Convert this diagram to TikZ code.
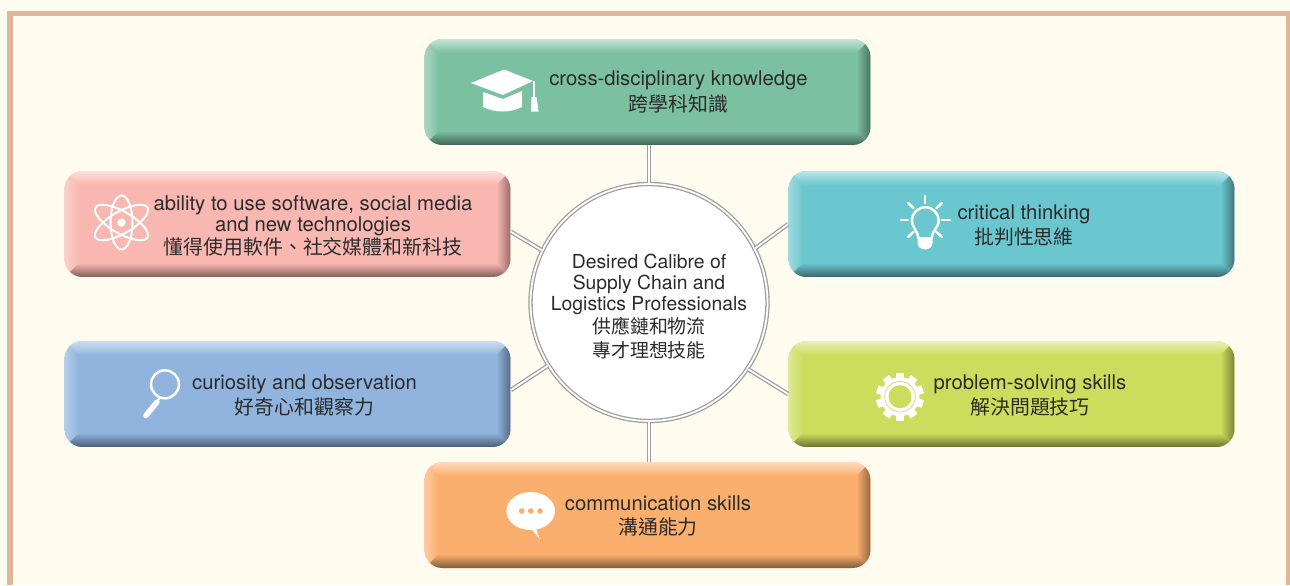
\documentclass[tikz,border=0pt]{standalone}
\usepackage{fontspec}
\setmainfont{TeX Gyre Heros}
\newfontfamily\cjk[Scale=0.98]{Noto Sans CJK TC}
\usepackage{tikz}
\usetikzlibrary{calc,positioning}

\definecolor{paper}{HTML}{FFFCEF}
\definecolor{frame}{HTML}{DDB897}
\definecolor{ink}{HTML}{2B2B2B}
\definecolor{mint}{HTML}{7CC0A2}
\definecolor{blush}{HTML}{F9B7B1}
\definecolor{aqua}{HTML}{6BC7CF}
\definecolor{sky}{HTML}{90B4DD}
\definecolor{lime}{HTML}{CCDD5E}
\definecolor{apricot}{HTML}{FBAF6E}

\tikzset{
  skill-box/.style={rectangle, rounded corners=0.36cm, minimum width=8.92cm, minimum height=2.12cm, inner sep=0pt, fill=#1,
    path picture={
      \coordinate (nw) at (path picture bounding box.north west);
      \coordinate (ne) at (path picture bounding box.north east);
      \coordinate (sw) at (path picture bounding box.south west);
      \coordinate (se) at (path picture bounding box.south east);
      \coordinate (inw) at ($(nw)+(0.28cm,-0.28cm)$);
      \coordinate (ine) at ($(ne)+(-0.28cm,-0.28cm)$);
      \coordinate (isw) at ($(sw)+(0.28cm,0.28cm)$);
      \coordinate (ise) at ($(se)+(-0.28cm,0.28cm)$);
      \path[sharp corners, top color=#1!45!white, bottom color=#1] (nw) -- (ne) -- (ine) -- (inw) -- cycle;
      \path[sharp corners, top color=#1, bottom color=#1!52!black] (isw) -- (ise) -- (se) -- (sw) -- cycle;
      \path[sharp corners, left color=#1!65!white, right color=#1] (nw) -- (inw) -- (isw) -- (sw) -- cycle;
      \path[sharp corners, left color=#1, right color=#1!60!black] (ine) -- (ne) -- (se) -- (ise) -- cycle;
    }}
}

\begin{document}
\begin{tikzpicture}[x=0.02cm, y=-0.02cm]
    \tikzstyle{link}=[draw=gray!75, line width=0.026cm, double=white, double distance=0.036cm]
    \tikzstyle{skill-text}=[align=center, inner sep=0pt, text=ink, font=\fontsize{11.55}{12}\selectfont]
    \tikzstyle{hub-text}=[align=center, inner sep=0pt, text=ink, font=\fontsize{11}{12}\selectfont]
    \tikzstyle{glyph}=[draw=white, line width=0.05cm, line cap=round]

    \fill[paper] (0,0) rectangle (1290,585);
    \fill[frame] (7.3,10.5) rectangle (1290,16);
    \fill[frame] (7.3,10.5) rectangle (12.5,585);
    \fill[frame] (1286,10.5) rectangle (1290,585);

    \node[skill-box=mint] (knowledge) at (647.5,92) {};
    \node[skill-box=blush] (software) at (287.5,224) {};
    \node[skill-box=aqua] (thinking) at (1011.5,224) {};
    \node[skill-box=sky] (curiosity) at (287.5,394) {};
    \node[skill-box=lime] (solving) at (1011.5,394) {};
    \node[skill-box=apricot] (communication) at (647.5,515) {};

    \node[circle, link, fill=white, minimum size=4.74cm, inner sep=0pt] (calibre) at (649,302.5) {};

    \draw[link] (calibre.north) -- (calibre.north |- knowledge.south);
    \draw[link] (calibre.south) -- (calibre.south |- communication.north);
    \draw[link] (calibre.154) -- (software.-2.3);
    \draw[link] (calibre.27.8) -- (thinking.180.8);
    \draw[link] (calibre.212.4) -- (curiosity.1.5);
    \draw[link] (calibre.-34) -- (solving.180);

    \node[hub-text] (calibre-text) at (649,306.5) {Desired Calibre of\\Supply Chain and\\Logistics Professionals\\[1.3pt]{\cjk 供應鏈和物流}\\[1.6pt]{\cjk 專才理想技能}};
    \node[skill-text] (knowledge-text) at (678.5,92) {cross-disciplinary knowledge\\[1.6pt]{\cjk 跨學科知識}};
    \node[skill-text] (software-text) at (313,226) {ability to use software, social media\\and new technologies\\{\cjk 懂得使用軟件、社交媒體和新科技}};
    \node[skill-text] (thinking-text) at (1024,225.5) {critical thinking\\[1.6pt]{\cjk 批判性思維}};
    \node[skill-text] (curiosity-text) at (304.5,395.5) {curiosity and observation\\[1.6pt]{\cjk 好奇心和觀察力}};
    \node[skill-text] (solving-text) at (1030,395.5) {problem-solving skills\\[1.6pt]{\cjk 解決問題技巧}};
    \node[skill-text] (communication-text) at (658,516) {communication skills\\[1.6pt]{\cjk 溝通能力}};

    % cap
    \fill[white] (471,83) -- (504,69.5) -- (533,81) -- (503,95) -- cycle;
    \fill[white] (483,92) -- (503,99) -- (522,91) -- (522,107) .. controls (510,113) and (495,113) .. (483,107) -- cycle;
    \fill[white] (532.6,81) rectangle (535,99);
    \fill[white] (531.5,97) -- (536.5,97) -- (538.5,111.5) -- (531,111.5) -- cycle;

    % atom
    \draw[white, line width=0.04cm] (121.5,222.5) ellipse [x radius=27, y radius=11, rotate=90];
    \draw[white, line width=0.04cm] (121.5,222.5) ellipse [x radius=30, y radius=11, rotate=30];
    \draw[white, line width=0.04cm] (121.5,222.5) ellipse [x radius=30, y radius=11, rotate=-30];
    \fill[white] (121.5,222.5) circle [radius=4.2];

    % bulb
    \draw[glyph] (925,196) -- (925,203);
    \draw[glyph] (901,220) -- (908,220);
    \draw[glyph] (942,220) -- (950,220);
    \draw[glyph] (908,203) -- (913.5,208);
    \draw[glyph] (942,203) -- (936.5,208);
    \draw[glyph] (908,237) -- (913.5,232);
    \draw[glyph] (942,237) -- (936.5,232);
    \draw[glyph] (918.5,238) .. controls (918,231) and (912,228) .. (912,220.5) arc [start angle=180, end angle=360, radius=13.3] .. controls (938.6,228) and (932,231) .. (931.5,238);
    \fill[white] (917.5,237) -- (932.5,237) -- (932.5,243) arc [start angle=0, end angle=180, x radius=7.5, y radius=6.5] -- cycle;

    % magnifier
    \draw[white, line width=0.05cm] (165,384.3) circle [radius=14];
    \draw[white, line width=0.03cm] (161,397) -- (156,402);
    \draw[white, line width=0.11cm, line cap=round] (157,402) -- (146,415.5);

    % gear
    \fill[white] (900,396.7) circle [radius=19.5];
    \foreach \ang in {0,36,...,324}
        \fill[white, rotate around={\ang:(900,396.7)}] (896,396.7) rectangle (904,372.7);
    \draw[lime, line width=0.014cm] (900,396.7) circle [radius=15.3];
    \fill[lime] (900,396.7) circle [radius=11.5];

    % bubble
    \fill[white] (530.7,511) ellipse [x radius=24.3, y radius=19];
    \fill[white] (530,527) -- (536,528) -- (539.5,539) -- cycle;
    \foreach \dotx in {521.7,530.7,540}
        \fill[apricot] (\dotx,511) circle [radius=2.8];
\end{tikzpicture}
\end{document}
